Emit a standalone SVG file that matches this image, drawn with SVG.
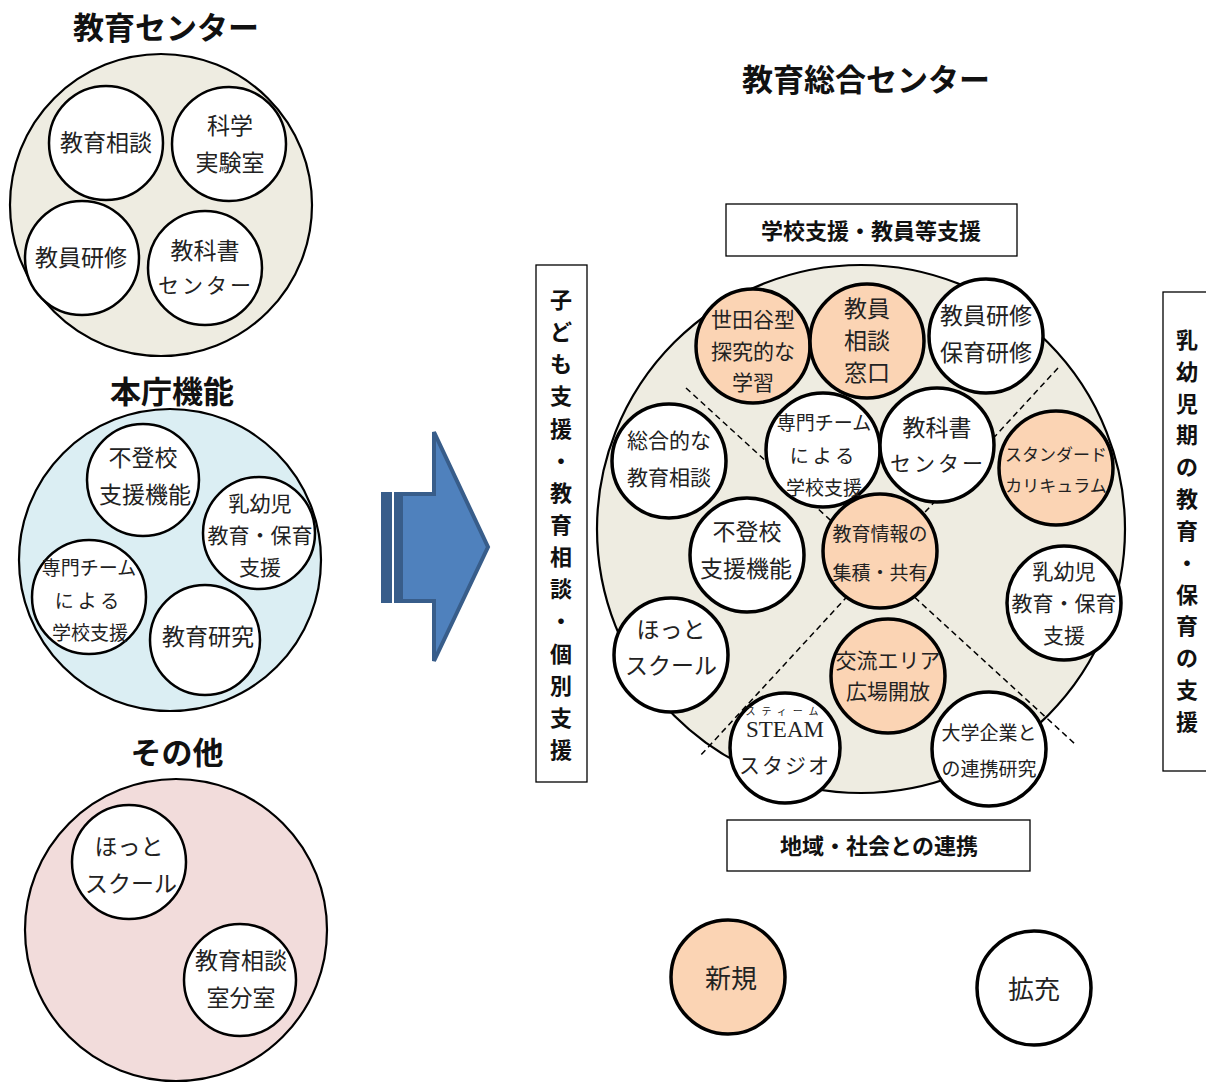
<svg xmlns="http://www.w3.org/2000/svg" width="1206" height="1084" viewBox="0 0 1206 1084">
<style>
text{font-family:"Noto Sans CJK JP","Liberation Sans",sans-serif;text-anchor:middle;dominant-baseline:central;fill:#222;transform:translateY(-2px)}
.title{font-weight:bold;font-size:31px;fill:#111}
.lbl{font-weight:bold;font-size:22px;fill:#111}
.big{stroke:#000;stroke-width:2.2}
.sm{fill:#fff;stroke:#000;stroke-width:2.5}
.rw{fill:#fff;stroke:#000;stroke-width:3.5}
.ro{fill:#fbd4b4;stroke:#000;stroke-width:3.5}
.t26{font-size:26px}
.t23{font-size:23px}
.t21{font-size:21px}
.t19{font-size:19px}
.t17{font-size:17px}
.box{fill:#fff;stroke:#000;stroke-width:1.3}
.dash{stroke:#000;stroke-width:1.5;stroke-dasharray:6 4;fill:none}
</style>

<!-- 教育センター -->
<g id="edu-center">
<text class="title" x="166" y="27">教育センター</text>
<circle class="big" cx="161" cy="205" r="151" fill="#eeece1"/>
</g>
<g id="ec-soudan"><circle class="sm" cx="106" cy="143" r="57"/><text class="t23" x="106" y="143">教育相談</text></g>
<g id="ec-kagaku"><circle class="sm" cx="229" cy="144" r="57"/><text class="t23" x="230" y="126">科学</text><text class="t23" x="230" y="163">実験室</text></g>
<g id="ec-kenshu"><circle class="sm" cx="82" cy="258" r="57"/><text class="t23" x="81" y="258">教員研修</text></g>
<g id="ec-kyokasho"><circle class="sm" cx="205" cy="268" r="57"/><text class="t23" x="205" y="251">教科書</text><text class="t21" x="206" y="286" letter-spacing="3">センター</text></g>

<!-- 本庁機能 -->
<g id="honcho">
<text class="title" x="172" y="391">本庁機能</text>
<circle class="big" cx="170" cy="560" r="151" fill="#dbeef3"/>
</g>
<g id="hc-futoko"><circle class="sm" cx="143" cy="480" r="56"/><text class="t23" x="143" y="458">不登校</text><text class="t23" x="145" y="495">支援機能</text></g>
<g id="hc-nyuyoji"><circle class="sm" cx="259" cy="533" r="56"/><text class="t21" x="260" y="504">乳幼児</text><text class="t21" x="260" y="536">教育・保育</text><text class="t21" x="260" y="568">支援</text></g>
<g id="hc-senmon"><circle class="sm" cx="89" cy="597" r="57"/><text class="t19" x="89" y="568">専門チーム</text><text class="t19" x="89" y="601" letter-spacing="4">による</text><text class="t19" x="90" y="633">学校支援</text></g>
<g id="hc-kenkyu"><circle class="sm" cx="205" cy="640" r="55"/><text class="t23" x="208" y="637">教育研究</text></g>

<!-- その他 -->
<g id="sonota">
<text class="title" x="177" y="752">その他</text>
<circle class="big" cx="176" cy="930" r="151" fill="#f2dcdb"/>
</g>
<g id="st-hot"><circle class="sm" cx="129" cy="862" r="57"/><text class="t23" x="129" y="847">ほっと</text><text class="t23" x="131" y="884">スクール</text></g>
<g id="st-bunshitsu"><circle class="sm" cx="240" cy="980" r="56"/><text class="t23" x="241" y="961">教育相談</text><text class="t23" x="241" y="998">室分室</text></g>

<!-- arrow -->
<g id="arrow">
<rect x="381" y="492" width="11" height="111" fill="#385d8a"/>
<rect x="394" y="492" width="6" height="111" fill="#385d8a"/>
<polygon points="401,494 434,494 434,432 488,547 434,661 434,601 401,601" fill="#4f81bd" stroke="#385d8a" stroke-width="4"/>
</g>

<!-- 教育総合センター -->
<g id="sogo">
<text class="title" x="866" y="79">教育総合センター</text>
<circle class="big" cx="861" cy="529" r="264" fill="#eeece1"/>
</g>

<g id="connectors">
<line class="dash" x1="686" y1="388" x2="1075" y2="744"/>
<line class="dash" x1="1058" y1="368" x2="700" y2="756"/>
</g>

<g id="box-top"><rect class="box" x="726" y="204" width="291" height="52"/><text class="lbl" x="871" y="231">学校支援・教員等支援</text></g>
<g id="box-bottom"><rect class="box" x="727" y="820" width="303" height="51"/><text class="lbl" x="879" y="846">地域・社会との連携</text></g>
<g id="box-left"><rect class="box" x="536" y="265" width="51" height="517"/>
<text class="lbl" x="561" y="300">子</text><text class="lbl" x="561" y="332">ど</text><text class="lbl" x="561" y="364">も</text><text class="lbl" x="561" y="396">支</text><text class="lbl" x="561" y="429">援</text><text class="lbl" x="561" y="461">・</text><text class="lbl" x="561" y="493">教</text><text class="lbl" x="561" y="525">育</text><text class="lbl" x="561" y="557">相</text><text class="lbl" x="561" y="589">談</text><text class="lbl" x="561" y="621">・</text><text class="lbl" x="561" y="654">個</text><text class="lbl" x="561" y="686">別</text><text class="lbl" x="561" y="718">支</text><text class="lbl" x="561" y="750">援</text>
</g>
<g id="box-right"><rect class="box" x="1163" y="292" width="50" height="479"/>
<text class="lbl" x="1187" y="340">乳</text><text class="lbl" x="1187" y="372">幼</text><text class="lbl" x="1187" y="404">児</text><text class="lbl" x="1187" y="435">期</text><text class="lbl" x="1187" y="467">の</text><text class="lbl" x="1187" y="499">教</text><text class="lbl" x="1187" y="531">育</text><text class="lbl" x="1187" y="563">・</text><text class="lbl" x="1187" y="595">保</text><text class="lbl" x="1187" y="626">育</text><text class="lbl" x="1187" y="658">の</text><text class="lbl" x="1187" y="690">支</text><text class="lbl" x="1187" y="722">援</text>
</g>

<g id="r-setagaya"><circle class="ro" cx="753" cy="346" r="57"/><text class="t21" x="753" y="320">世田谷型</text><text class="t21" x="753" y="352">探究的な</text><text class="t21" x="753" y="383">学習</text></g>
<g id="r-kyoin"><circle class="ro" cx="867" cy="341" r="57"/><text class="t23" x="867" y="309">教員</text><text class="t23" x="867" y="341">相談</text><text class="t23" x="867" y="373">窓口</text></g>
<g id="r-kenshu"><circle class="rw" cx="986" cy="336" r="57"/><text class="t23" x="986" y="316">教員研修</text><text class="t23" x="986" y="353">保育研修</text></g>
<g id="r-sogoteki"><circle class="rw" cx="669" cy="461" r="57"/><text class="t21" x="669" y="441">総合的な</text><text class="t21" x="669" y="478">教育相談</text></g>
<g id="r-senmon"><circle class="rw" cx="823" cy="450" r="57"/><text class="t19" x="824" y="423">専門チーム</text><text class="t19" x="824" y="456" letter-spacing="4">による</text><text class="t19" x="824" y="488">学校支援</text></g>
<g id="r-kyokasho"><circle class="rw" cx="937" cy="445" r="57"/><text class="t23" x="937" y="428">教科書</text><text class="t21" x="938" y="464" letter-spacing="3">センター</text></g>
<g id="r-standard"><circle class="ro" cx="1056" cy="468" r="57"/><text class="t17" x="1056" y="455">スタンダード</text><text class="t17" x="1056" y="486">カリキュラム</text></g>
<g id="r-futoko"><circle class="rw" cx="747" cy="555" r="57"/><text class="t23" x="747" y="532">不登校</text><text class="t23" x="746" y="569">支援機能</text></g>
<g id="r-johou"><circle class="ro" cx="880" cy="551" r="57"/><text class="t19" x="880" y="534">教育情報の</text><text class="t19" x="880" y="573">集積・共有</text></g>
<g id="r-nyuyoji"><circle class="rw" cx="1064" cy="603" r="57"/><text class="t21" x="1064" y="572">乳幼児</text><text class="t21" x="1064" y="604">教育・保育</text><text class="t21" x="1064" y="636">支援</text></g>
<g id="r-hot"><circle class="rw" cx="671" cy="655" r="57"/><text class="t23" x="671" y="630">ほっと</text><text class="t23" x="671" y="666">スクール</text></g>
<g id="r-koryu"><circle class="ro" cx="888" cy="676" r="57"/><text class="t21" x="888" y="661">交流エリア</text><text class="t21" x="888" y="692">広場開放</text></g>
<g id="r-steam"><circle class="rw" cx="785" cy="748" r="55"/><text x="785" y="712" font-size="10" letter-spacing="6">スティーム</text><text x="785" y="731" font-size="23" style="font-family:'Liberation Serif',serif">STEAM</text><text class="t21" x="785" y="766" letter-spacing="2">スタジオ</text></g>
<g id="r-daigaku"><circle class="rw" cx="989" cy="749" r="57"/><text class="t19" x="989" y="733">大学企業と</text><text class="t19" x="989" y="769">の連携研究</text></g>

<g id="legend-new"><circle class="ro" cx="728" cy="977" r="57"/><text class="t26" x="731" y="978">新規</text></g>
<g id="legend-ext"><circle class="rw" cx="1034" cy="988" r="57"/><text class="t26" x="1034" y="989">拡充</text></g>
</svg>
